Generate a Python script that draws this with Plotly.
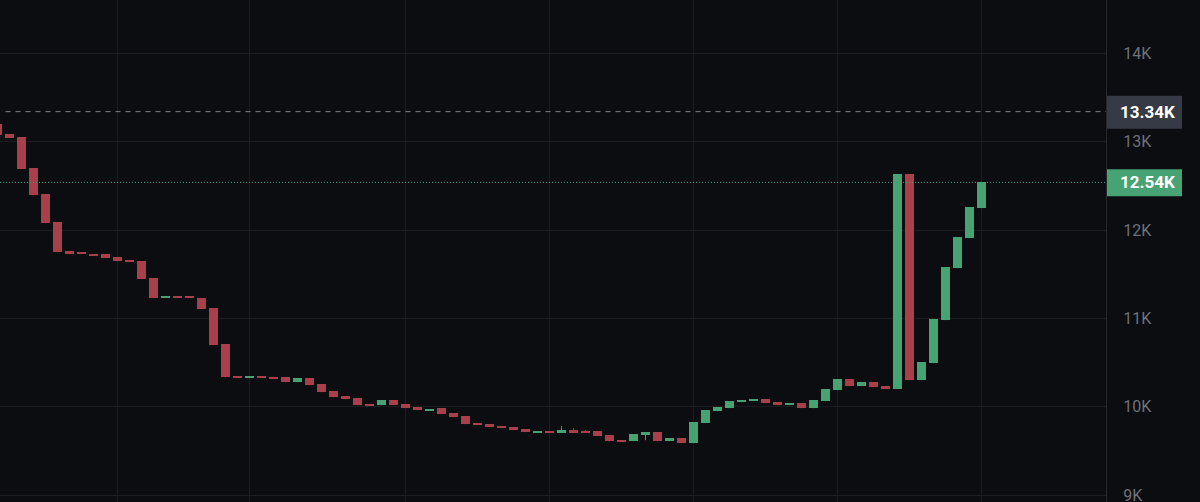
import plotly.graph_objects as go

# ---- data ----
candle_index = list(range(-1, 82))

opens = [13198, 13085, 13051, 12700, 12406, 12089, 11765, 11742, 11727, 11727,
         11693, 11659, 11648, 11456, 11233, 11244, 11244, 11230, 11117, 10709,
         10347, 10336, 10347, 10336, 10336, 10279, 10325, 10257, 10178, 10121,
         10098, 10031, 10019, 10076, 10031, 9997, 9963, 9985, 9929, 9895,
         9816, 9804, 9782, 9770, 9748, 9714, 9725, 9714, 9736, 9725,
         9725, 9680, 9623, 9612, 9680, 9714, 9612, 9646, 9589, 9816,
         9951, 9985, 10053, 10076, 10087, 10053, 10019, 10042, 9985, 10064,
         10189, 10313, 10234, 10279, 10234, 10200, 12632, 10302, 10494, 10981,
         11569, 11908, 12248]

closes = [13077, 13040, 12692, 12395, 12078, 11750, 11727, 11731, 11716, 11682,
          11648, 11648, 11445, 11230, 11244, 11233, 11233, 11105, 10698, 10336,
          10336, 10347, 10336, 10325, 10279, 10325, 10245, 10166, 10110, 10087,
          10019, 10019, 10076, 10019, 9985, 9963, 9974, 9917, 9883, 9804,
          9793, 9770, 9759, 9736, 9714, 9725, 9714, 9736, 9714, 9714,
          9669, 9612, 9612, 9691, 9714, 9612, 9646, 9589, 9827, 9963,
          9997, 10064, 10076, 10087, 10042, 10019, 10042, 9985, 10076, 10200,
          10313, 10234, 10279, 10223, 10200, 12632, 10302, 10506, 10992, 11580,
          11920, 12259, 12542]

highs = [13198, 13085, 13051, 12700, 12406, 12089, 11765, 11742, 11727, 11727,
         11693, 11659, 11648, 11456, 11244, 11244, 11244, 11230, 11117, 10709,
         10347, 10347, 10347, 10336, 10336, 10325, 10325, 10257, 10178, 10121,
         10098, 10031, 10076, 10076, 10031, 9997, 9974, 9985, 9929, 9895,
         9816, 9804, 9782, 9770, 9748, 9725, 9725, 9782, 9759, 9736,
         9725, 9680, 9623, 9691, 9714, 9714, 9646, 9646, 9827, 9963,
         9997, 10064, 10076, 10087, 10087, 10053, 10042, 10042, 10076, 10200,
         10313, 10313, 10279, 10279, 10234, 12632, 12632, 10506, 10992, 11580,
         11920, 12259, 12542]

lows = [13077, 13040, 12692, 12395, 12078, 11750, 11727, 11731, 11716, 11682,
        11648, 11648, 11445, 11230, 11233, 11233, 11233, 11105, 10698, 10336,
        10336, 10336, 10336, 10325, 10279, 10279, 10245, 10166, 10110, 10087,
        10019, 10019, 10019, 10019, 9985, 9963, 9963, 9917, 9883, 9804,
        9793, 9770, 9759, 9736, 9714, 9714, 9714, 9714, 9714, 9714,
        9669, 9612, 9612, 9612, 9623, 9612, 9612, 9589, 9589, 9816,
        9951, 9985, 10053, 10076, 10042, 10019, 10019, 9985, 9985, 10064,
        10189, 10234, 10234, 10223, 10200, 10200, 10302, 10302, 10494, 10981,
        11569, 11908, 12248]

y_tick_values = [9000, 10000, 11000, 12000, 13000, 14000]
y_tick_labels = ["9K", "10K", "11K", "12K", "13K", "14K"]
x_grid_positions = [9, 20, 33, 45, 57, 69, 81]

prev_close_value = 13340
prev_close_label = "13.34K"
last_price_value = 12540
last_price_label = "12.54K"

# ---- styles ----
GREEN = "#47a274"
RED = "#a8404b"
BG = "#0c0d10"
GRID = "#1c1d21"

body_base = [min(o, c) for o, c in zip(opens, closes)]
body_height = [abs(c - o) for o, c in zip(opens, closes)]
body_color = [GREEN if c >= o else RED for o, c in zip(opens, closes)]

fig = go.Figure()

# wicks
for col, up in ((GREEN, True), (RED, False)):
    wx, wy = [], []
    for xi, o, c, h, l in zip(candle_index, opens, closes, highs, lows):
        if (c >= o) == up:
            wx += [xi, xi, None]
            wy += [l, h, None]
    fig.add_trace(go.Scatter(x=wx, y=wy, mode="lines",
                             line=dict(color=col, width=1),
                             hoverinfo="skip", showlegend=False))

# bodies
fig.add_trace(go.Bar(x=candle_index, y=body_height, base=body_base,
                     width=0.75, marker=dict(color=body_color, line=dict(width=0)),
                     hoverinfo="skip", showlegend=False))

fig.add_shape(type="line", xref="paper", x0=0.005, x1=1, yref="y",
              y0=prev_close_value, y1=prev_close_value,
              line=dict(color="#7f828a", width=1, dash="5px,5px"))
fig.add_shape(type="line", xref="paper", x0=0, x1=1, yref="y",
              y0=last_price_value, y1=last_price_value,
              line=dict(color="#3aa57a", width=1, dash="1px,2px"))

# price tags on the axis
fig.add_shape(type="rect", xref="paper", xsizemode="pixel", xanchor=1, x0=1, x1=76,
              yref="y", ysizemode="pixel", yanchor=prev_close_value, y0=-17, y1=16,
              fillcolor="#363a44", line=dict(width=0), layer="above")
fig.add_shape(type="rect", xref="paper", xsizemode="pixel", xanchor=1, x0=1, x1=76,
              yref="y", ysizemode="pixel", yanchor=last_price_value, y0=-14, y1=13,
              fillcolor=GREEN, line=dict(width=0), layer="above")
fig.add_annotation(xref="paper", x=1, xanchor="left", xshift=12, yref="y",
                   y=prev_close_value, yanchor="middle", text=prev_close_label,
                   showarrow=False,
                   font=dict(family="Roboto", size=17, color="#ffffff", weight="bold"))
fig.add_annotation(xref="paper", x=1, xanchor="left", xshift=12, yref="y",
                   y=last_price_value, yanchor="middle", text=last_price_label,
                   showarrow=False,
                   font=dict(family="Roboto", size=17, color="#ffffff", weight="bold"))

# The chart continues below the 502px window (the 9K label is cut off there)
fig.update_layout(
    width=1200, height=540,
    margin=dict(l=0, r=94, t=0, b=0),
    paper_bgcolor=BG, plot_bgcolor=BG,
    showlegend=False,
    bargap=0,
    xaxis=dict(range=[-0.79, 91.375], tickvals=x_grid_positions, showticklabels=False,
               showgrid=True, gridcolor=GRID, gridwidth=1, zeroline=False,
               showline=False, ticks="", fixedrange=True),
    yaxis=dict(side="right", range=[8494, 14603], tickvals=y_tick_values,
               ticktext=y_tick_labels, showgrid=True, gridcolor=GRID, gridwidth=1,
               zeroline=False, showline=True, linecolor="#26272c", linewidth=1,
               ticks="", ticklabelstandoff=13,
               tickfont=dict(family="Roboto", size=16, color="#6e717a"),
               fixedrange=True),
)

fig.write_html(
    "out.html",
    config={"displayModeBar": False},
    post_script=("document.body.style.margin='0';"
                 "document.body.style.overflow='hidden';"
                 "document.documentElement.style.overflow='hidden';"
                 "document.body.style.background='#0c0d10';"),
)
